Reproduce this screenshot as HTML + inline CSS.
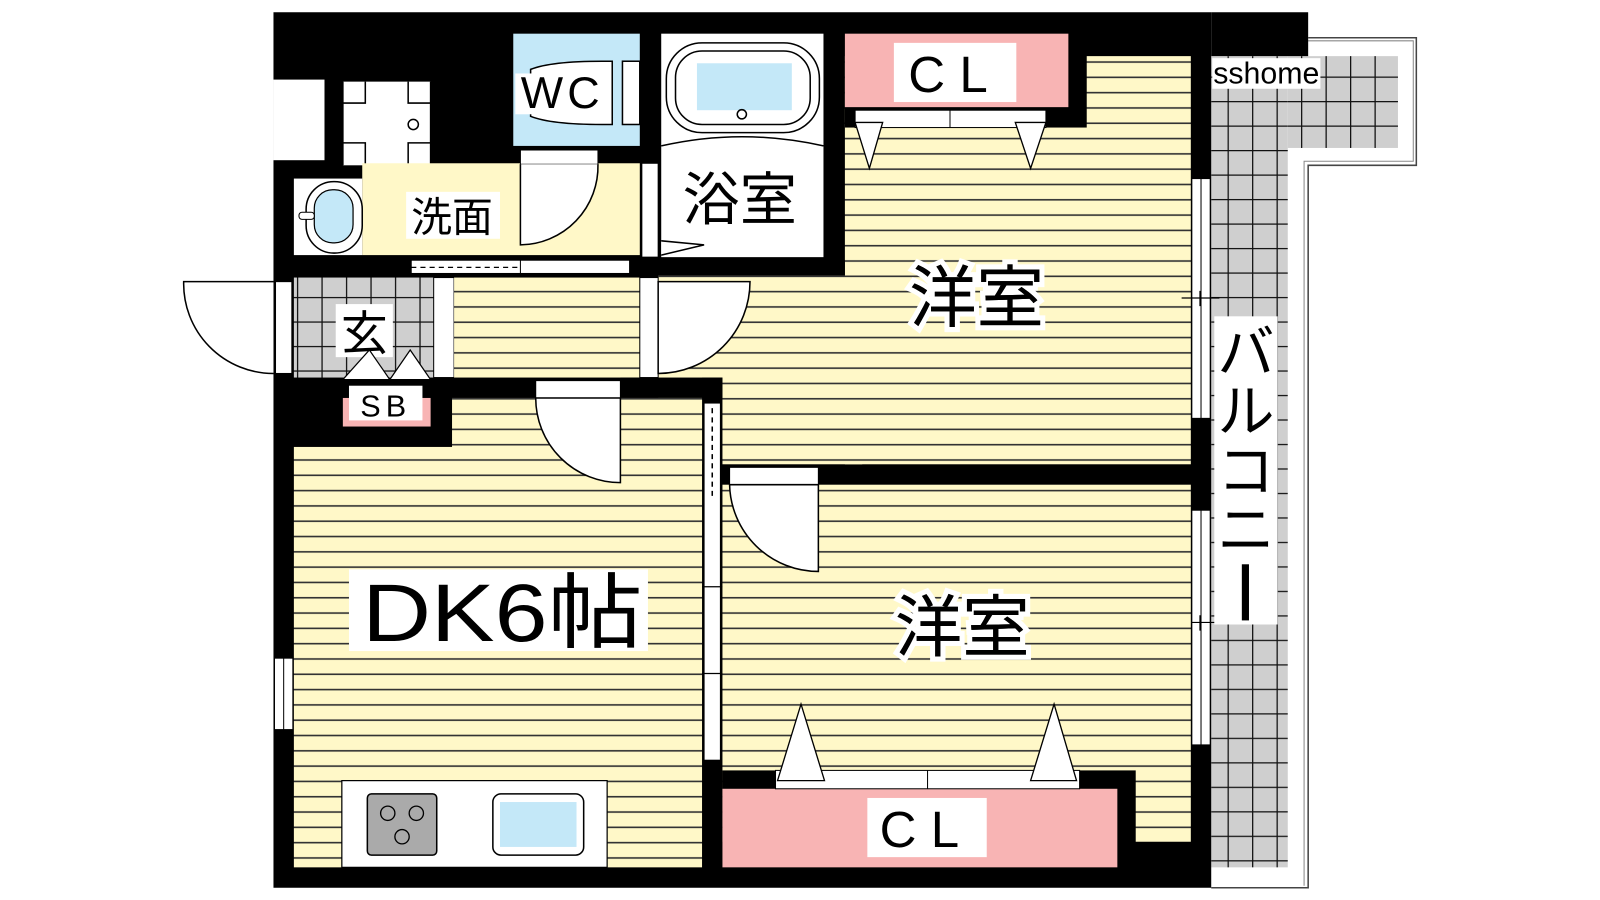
<!DOCTYPE html>
<html><head><meta charset="utf-8"><style>
html,body{margin:0;padding:0;background:#fff;}
svg{display:block;}
text{font-family:"Liberation Sans","Noto Sans CJK JP",sans-serif;fill:#000;}
</style></head><body>
<svg width="1600" height="900" viewBox="0 0 1568 882" xmlns="http://www.w3.org/2000/svg">
<defs>
<pattern id="fl" width="15" height="15" patternUnits="userSpaceOnUse" y="2">
<rect width="15" height="15" fill="#fff8c8"/><rect y="13" width="15" height="1.6" fill="#333"/>
</pattern>
<pattern id="tl" width="24" height="24" patternUnits="userSpaceOnUse" x="3" y="3">
<rect width="24" height="24" fill="#cfcfcf"/><path d="M0 0.5H24M0.5 0V24" stroke="#111" stroke-width="1.5"/>
</pattern>
</defs>
<rect width="1568" height="882" fill="#fff"/>
<path d="M1282 37H1388V162H1282V870H1187" fill="none" stroke="#444" stroke-width="1.5"/>
<path d="M1280 40H1385V158H1278V868" fill="none" stroke="#888" stroke-width="1"/>
<rect x="1187" y="55" width="75" height="795" fill="url(#tl)"/>
<rect x="1262" y="55" width="108" height="90" fill="url(#tl)"/>
<rect x="268" y="12" width="919" height="858" fill="#000"/>
<rect x="1187" y="12" width="95" height="43" fill="#000"/>
<rect x="268" y="78" width="50" height="79" fill="#fff"/>
<rect x="336" y="80" width="86" height="82" fill="#fff"/>
<path d="M336 80V162M422 80V162M336 101H358V80M400 80V101H422M336 140H358V162M400 162V140H422" fill="none" stroke="#000" stroke-width="1.5"/>
<circle cx="405" cy="122" r="5" fill="#fff" stroke="#000" stroke-width="1.5"/>
<rect x="503" y="33" width="124" height="110" fill="#c4e8f8"/>
<path d="M520 68 Q540 60 590 60 H600 V122 H590 Q540 122 520 114Z" fill="#fff" stroke="#000" stroke-width="1.5"/>
<rect x="610" y="60" width="17" height="62" fill="#fff" stroke="#000" stroke-width="1.5"/>
<rect x="505" y="72" width="92" height="40" fill="#fff"/>
<text x="551" y="106" font-size="44" text-anchor="middle" letter-spacing="4">WC</text>
<rect x="648" y="33" width="159" height="219" fill="#fff"/>
<rect x="653" y="42" width="150" height="88" rx="35" fill="#fff" stroke="#000" stroke-width="1.5"/>
<rect x="662" y="50" width="132" height="72" rx="26" fill="#fff" stroke="#000" stroke-width="1.5"/>
<rect x="683" y="62" width="93" height="46" fill="#c4e8f8"/>
<circle cx="727" cy="112" r="4.5" fill="#fff" stroke="#000" stroke-width="1.5"/>
<path d="M648 143 Q727 125 807 143" fill="none" stroke="#000" stroke-width="1.5"/>
<text x="725" y="215" font-size="56" text-anchor="middle">浴室</text>
<path d="M648 250 L690 240 L648 236" fill="#fff" stroke="#000" stroke-width="1.5"/>
<rect x="629" y="160" width="16" height="92" fill="#fff" stroke="#000" stroke-width="1"/>
<rect x="355" y="160" width="272" height="90" fill="#fff8c8"/>
<rect x="288" y="175" width="67" height="75" fill="#fff"/>
<rect x="300" y="178" width="55" height="70" rx="27" fill="#fff" stroke="#000" stroke-width="1.5"/>
<rect x="308" y="186" width="38" height="52" rx="18" fill="#c4e8f8" stroke="#000" stroke-width="1.2"/>
<rect x="293" y="208" width="15" height="7" rx="3" fill="#fff" stroke="#000" stroke-width="1"/>
<rect x="398" y="188" width="92" height="46" fill="#fff"/>
<text x="443" y="227" font-size="40" text-anchor="middle">洗面</text>
<rect x="510" y="147" width="76" height="14" fill="#fff" stroke="#000" stroke-width="1"/>
<path d="M510 161V240 A77 77 0 0 0 586 161" fill="#fff" stroke="#000" stroke-width="1.5"/>
<rect x="403" y="255" width="214" height="13" fill="#fff" stroke="#000" stroke-width="1"/>
<path d="M403 262H510" stroke="#000" stroke-width="1.2" stroke-dasharray="5,4"/>
<path d="M510 255V268" stroke="#000"/>
<rect x="288" y="272" width="137" height="98" fill="url(#tl)"/>
<rect x="425" y="272" width="20" height="98" fill="#fff" stroke="#000" stroke-width="1"/>
<rect x="329" y="298" width="56" height="52" fill="#fff"/>
<text x="357" y="343" font-size="46" text-anchor="middle">玄</text>
<path d="M336 372L362 343L382 372ZM382 372L402 343L422 372Z" fill="#fff" stroke="#000" stroke-width="1.2"/>
<rect x="336" y="372" width="86" height="46" fill="#000"/>
<rect x="336" y="390" width="86" height="28" fill="#f8b4b4"/>
<rect x="342" y="378" width="72" height="34" fill="#fff"/>
<text x="378" y="408" font-size="30" text-anchor="middle" letter-spacing="5">SB</text>
<rect x="270" y="276" width="16" height="90" fill="#fff" stroke="#000" stroke-width="1"/>
<path d="M268 276H180 A88 88 0 0 0 268 366" fill="#fff" stroke="#000" stroke-width="1.5"/>
<rect x="445" y="272" width="182" height="98" fill="url(#fl)"/>
<rect x="828" y="55" width="339" height="400" fill="url(#fl)"/>
<rect x="645" y="270" width="200" height="185" fill="url(#fl)"/>
<rect x="645" y="255" width="183" height="15" fill="#000"/>
<rect x="627" y="272" width="18" height="98" fill="#fff" stroke="#000" stroke-width="1"/>
<path d="M645 276H735 A90 90 0 0 1 645 366Z" fill="#fff" stroke="#000" stroke-width="1.5"/>
<rect x="688" y="370" width="20" height="100" fill="#000"/>
<rect x="608" y="370" width="100" height="20" fill="#000"/>
<rect x="828" y="33" width="237" height="92" fill="#000"/>
<rect x="828" y="33" width="219" height="72" fill="#f8b4b4"/>
<rect x="876" y="42" width="120" height="58" fill="#fff"/>
<text x="936" y="90" font-size="50" text-anchor="middle" letter-spacing="14">CL</text>
<rect x="838" y="108" width="187" height="17" fill="#fff" stroke="#000" stroke-width="1"/>
<path d="M931 108V125" stroke="#000"/>
<path d="M838 120L852 165L865 120ZM995 120L1010 165L1025 120Z" fill="#fff" stroke="#000" stroke-width="1.3"/>
<text x="957" y="315" font-size="66" text-anchor="middle" stroke="#fff" stroke-width="10" paint-order="stroke">洋室</text>
<text x="957" y="315" font-size="66" text-anchor="middle">洋室</text>
<rect x="1168" y="175" width="18" height="235" fill="#fff" stroke="#000" stroke-width="1"/>
<path d="M1177 175V410" stroke="#000"/>
<rect x="1168" y="500" width="18" height="230" fill="#fff" stroke="#000" stroke-width="1"/>
<path d="M1177 500V730" stroke="#000"/>
<path d="M1158 292H1195M1176 285V300M1158 610H1195M1176 603V618" stroke="#000" stroke-width="1.2"/>
<rect x="443" y="390" width="245" height="460" fill="url(#fl)"/>
<rect x="288" y="438" width="160" height="412" fill="url(#fl)"/>
<rect x="525" y="373" width="83" height="17" fill="#fff" stroke="#000" stroke-width="1"/>
<path d="M525 390A83 83 0 0 0 608 473V390Z" fill="#fff" stroke="#000" stroke-width="1.5"/>
<rect x="269" y="645" width="18" height="70" fill="#fff" stroke="#000" stroke-width="1"/>
<path d="M278 645V715" stroke="#000"/>
<rect x="342" y="558" width="293" height="80" fill="#fff"/>
<text x="355" y="628" font-size="80" textLength="275" lengthAdjust="spacingAndGlyphs">DK6帖</text>
<rect x="335" y="765" width="260" height="85" fill="#fff" stroke="#000" stroke-width="1.2"/>
<rect x="360" y="778" width="68" height="60" rx="4" fill="#aaa" stroke="#000" stroke-width="1.5"/>
<g fill="none" stroke="#000" stroke-width="1.3"><circle cx="380" cy="797" r="7"/><circle cx="408" cy="797" r="7"/><circle cx="394" cy="820" r="7"/></g>
<rect x="483" y="778" width="89" height="60" rx="8" fill="#fff" stroke="#000" stroke-width="1.5"/>
<rect x="490" y="786" width="75" height="44" fill="#c4e8f8"/>
<rect x="708" y="475" width="459" height="350" fill="url(#fl)"/>
<rect x="690" y="395" width="16" height="350" fill="#fff" stroke="#000" stroke-width="1"/>
<path d="M698 400V490" stroke="#000" stroke-width="1.5" stroke-dasharray="5,4"/>
<path d="M688 575H708M688 660H708" stroke="#000" stroke-width="1.2"/>
<rect x="715" y="458" width="87" height="17" fill="#fff" stroke="#000" stroke-width="1"/>
<path d="M715 475A87 87 0 0 0 802 560V475Z" fill="#fff" stroke="#000" stroke-width="1.5"/>
<rect x="708" y="755" width="405" height="95" fill="#000"/>
<rect x="708" y="773" width="387" height="77" fill="#f8b4b4"/>
<rect x="760" y="755" width="298" height="18" fill="#fff" stroke="#000" stroke-width="1"/>
<path d="M909 755V773" stroke="#000"/>
<path d="M762 765L785 690L808 765ZM1010 765L1033 690L1055 765Z" fill="#fff" stroke="#000" stroke-width="1.3"/>
<rect x="850" y="782" width="117" height="58" fill="#fff"/>
<text x="908" y="830" font-size="50" text-anchor="middle" letter-spacing="14">CL</text>
<text x="943" y="638" font-size="66" text-anchor="middle" stroke="#fff" stroke-width="10" paint-order="stroke">洋室</text>
<text x="943" y="638" font-size="66" text-anchor="middle">洋室</text>
<rect x="1188" y="57" width="106" height="30" fill="#fff"/>
<text x="1241" y="82" font-size="30" text-anchor="middle" textLength="104" lengthAdjust="spacingAndGlyphs">sshome</text>
<rect x="1190" y="310" width="62" height="302" fill="#fff"/>
<text x="1221" y="365" font-size="56" text-anchor="middle">バ</text>
<text x="1221" y="423" font-size="56" text-anchor="middle">ル</text>
<text x="1221" y="481" font-size="56" text-anchor="middle">コ</text>
<text x="1221" y="539" font-size="56" text-anchor="middle">ニ</text>
<rect x="1217" y="553" width="7" height="55" fill="#000"/>
</svg>
</body></html>
